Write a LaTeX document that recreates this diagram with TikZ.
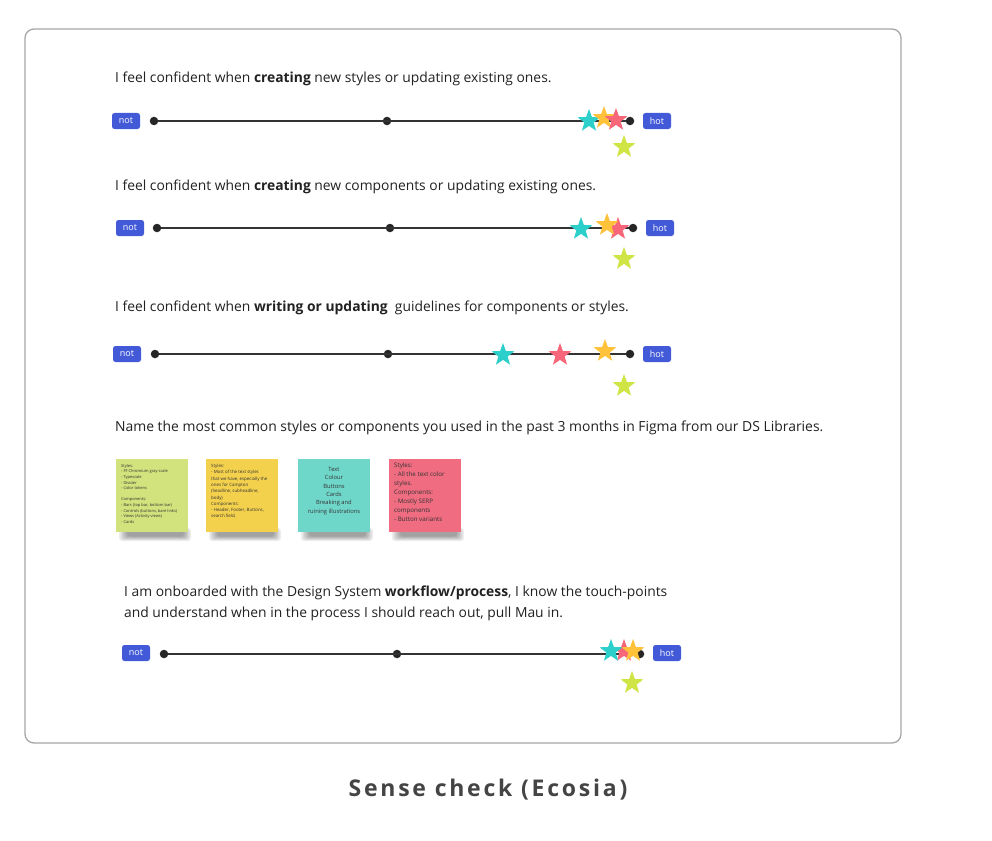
\documentclass[tikz,border=0pt]{standalone}
\usepackage{fontspec}
\setmainfont{Open Sans}
\newfontfamily\capfont[LetterSpace=12]{Open Sans}
\usetikzlibrary{shapes.geometric}
\definecolor{btn}{HTML}{4259D8}
\definecolor{txt}{HTML}{222222}
\definecolor{scyan}{HTML}{2DCFCB}
\definecolor{sorange}{HTML}{FFC23A}
\definecolor{spink}{HTML}{F8667A}
\definecolor{slime}{HTML}{CFE546}
\definecolor{ngreen}{HTML}{D2E27C}
\definecolor{nyellow}{HTML}{F4D14D}
\definecolor{nteal}{HTML}{6FD6CA}
\definecolor{npink}{HTML}{F06C80}
\definecolor{captxt}{HTML}{444444}
\tikzset{
  qtext/.style={anchor=west,inner sep=0pt,text=txt,font=\fontsize{13.85}{17}\selectfont},
  tag/.style={fill=btn,text=white,rounded corners=2.5pt,minimum width=28pt,minimum height=16pt,inner sep=0pt,font=\fontsize{9}{10}\selectfont},
  dot/.style={circle,fill=black!85,minimum size=8.5pt,inner sep=0pt},
  scale line/.style={line width=1.8pt,draw=black!80},
  vote/.style={star,star points=5,star point ratio=2.45,minimum size=24pt,inner sep=0pt,fill=#1},
  note/.style={minimum width=72pt,minimum height=73pt,inner sep=0pt,fill=#1},
  notetext/.style={anchor=north west,inner sep=0pt,text=black!80,align=left},
}
\begin{document}
\begin{tikzpicture}[x=1pt,y=-1pt]
\useasboundingbox (0,0) rectangle (992,840);
\fill[white] (0,0) rectangle (992,840);
\draw[black!35,line width=1.3pt,rounded corners=9pt] (25,29) rectangle (901,743);

% Row 1
\node[qtext] (q1) at (115,78.5) {I feel confident when \textbf{creating} new styles or updating existing ones.};
\node[tag] (n1) at (126,121) {not};
\node[tag] (h1) at (657,121) {hot};
\node[dot] (a1) at (154,121) {};
\node[dot] (m1) at (387,121) {};
\node[dot] (b1) at (630,121) {};
\draw[scale line] (a1) -- (b1);
\node[vote=scyan] (s1a) at (589,121) {};
\node[vote=sorange] (s1b) at (604,118) {};
\node[vote=spink] (s1c) at (616,120) {};
\node[vote=slime] (s1d) at (624,147) {};

% Row 2
\node[qtext] (q2) at (115,186.5) {I feel confident when \textbf{creating} new components or updating existing ones.};
\node[tag] (n2) at (130,228) {not};
\node[tag] (h2) at (660,228) {hot};
\node[dot] (a2) at (157,228) {};
\node[dot] (m2) at (390,228) {};
\node[dot] (b2) at (633,228) {};
\draw[scale line] (a2) -- (b2);
\node[vote=scyan] (s2a) at (581,229) {};
\node[vote=spink] (s2c) at (618,229) {};
\node[vote=sorange] (s2b) at (607,225) {};
\node[vote=slime] (s2d) at (624,259) {};

% Row 3
\node[qtext] (q3) at (115,307.5) {I feel confident when \textbf{writing or updating} \ guidelines for components or styles.};
\node[tag] (n3) at (127,354) {not};
\node[tag] (h3) at (657,354) {hot};
\node[dot] (a3) at (155,354) {};
\node[dot] (m3) at (388,354) {};
\node[dot] (b3) at (630,354) {};
\draw[scale line] (a3) -- (b3);
\node[vote=scyan] (s3a) at (503,355) {};
\node[vote=spink] (s3c) at (560,355) {};
\node[vote=sorange] (s3b) at (605,351) {};
\node[vote=slime] (s3d) at (624,386) {};

% Row 4
\node[qtext,font=\fontsize{13.9}{17}\selectfont] (q4) at (115,427.5) {Name the most common styles or components you used in the past 3 months in Figma from our DS Libraries.};

\foreach \x in {116,206,298,389}{
  \foreach \i in {0,...,5}{
    \fill[black,opacity=0.07,rounded corners=3pt] (\x+3+\i*1.6,528+\i*0.3) rectangle (\x+75-\i*1.4,541-\i*0.9);
  }
}
\node[note=ngreen,anchor=north west] (k1) at (116,459) {};
\node[note=nyellow,anchor=north west] (k2) at (206,459) {};
\node[note=nteal,anchor=north west] (k3) at (298,459) {};
\node[note=npink,anchor=north west] (k4) at (389,459) {};
\node[notetext,font=\fontsize{4}{5.6}\selectfont] (t1) at (121,464) {Styles:\\- FF Chromium gray scale\\- Typescale\\- Divider\\- Color tokens\\[5.6pt]Components:\\- Bars (top bar, bottom bar)\\- Controls (buttons, bare links)\\- Views (Activity views)\\- Cards};
\node[notetext,font=\fontsize{4.4}{6.3}\selectfont] (t2) at (211,464) {Styles:\\- Most of the text styles\\that we have, especially the\\ones for Campton\\(headline, subheadline,\\body)\\Components:\\- Header, Footer, Buttons,\\search field,};
\node[notetext,anchor=north,align=center,font=\fontsize{5.8}{8.4}\selectfont] (t3) at (334,467) {Text\\Colour\\Buttons\\Cards\\Breaking and\\ruining illustrations};
\node[notetext,font=\fontsize{6.2}{8.9}\selectfont] (t4) at (394,463) {Styles:\\- All the text color\\styles.\\Components:\\- Mostly SERP\\components\\- Button variants};

% Row 5
\node[qtext,anchor=north west,align=left,font=\fontsize{13.85}{20.5}\selectfont] (q5) at (124,586) {I am onboarded with the Design System \textbf{workflow/process}, I know the touch-points\\and understand when in the process I should reach out, pull Mau in.};
\node[tag] (n5) at (136,653) {not};
\node[tag] (h5) at (667,653) {hot};
\node[dot] (a5) at (164,654) {};
\node[dot] (m5) at (397,654) {};
\node[dot] (b5) at (640,654) {};
\draw[scale line] (a5) -- (b5);
\node[vote=spink] (s5c) at (624,651) {};
\node[vote=scyan] (s5a) at (611,651) {};
\node[vote=sorange] (s5b) at (633,651) {};
\node[vote=slime] (s5d) at (632,683) {};

% Caption
\node[inner sep=0pt,text=captxt,font=\capfont\bfseries\fontsize{23}{26}\selectfont] (cap) at (488,790) {Sense check (Ecosia)};
\end{tikzpicture}
\end{document}
